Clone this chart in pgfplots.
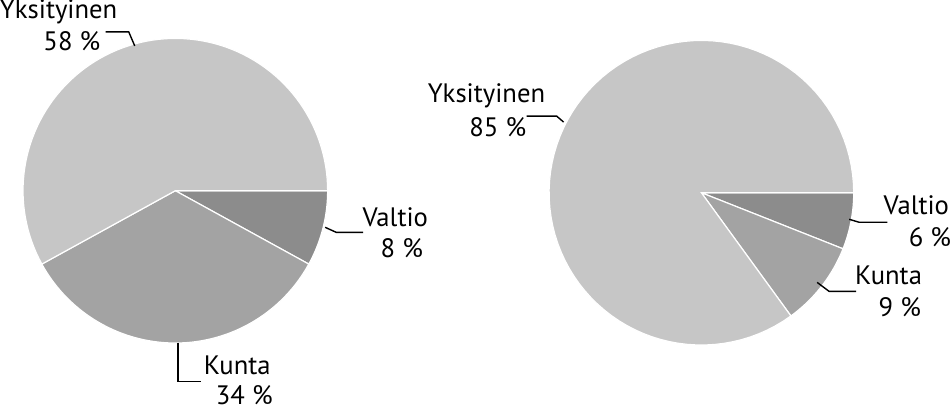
\documentclass[border=0pt]{standalone}
\usepackage{pgfplots}
\usepackage{pgfplotstable}
\pgfplotsset{compat=1.18}
\usepackage{fontspec}
\setmainfont{PT Sans}
\definecolor{cY}{HTML}{C6C6C6}
\definecolor{cK}{HTML}{A3A3A3}
\definecolor{cV}{HTML}{8C8C8C}
\tikzset{lbl/.style={anchor=base east, inner sep=0pt, font=\fontsize{13.3}{15}\selectfont}}
\pgfplotstableread{
sector left right
Valtio 8 6
Kunta 34 9
Yksityinen 58 85
}\piedata
\pgfplotstablegetelem{0}{left}\of\piedata \let\lV\pgfplotsretval
\pgfplotstablegetelem{1}{left}\of\piedata \let\lK\pgfplotsretval
\pgfplotstablegetelem{0}{right}\of\piedata \let\rV\pgfplotsretval
\pgfplotstablegetelem{1}{right}\of\piedata \let\rK\pgfplotsretval
\pgfmathsetmacro\la{3.6*\lV}
\pgfmathsetmacro\lb{3.6*(\lV+\lK)}
\pgfmathsetmacro\ra{3.6*\rV}
\pgfmathsetmacro\rb{3.6*(\rV+\rK)}
\begin{document}
\begin{tikzpicture}
\begin{axis}[
  hide axis, scale only axis, width=475.5pt, height=208pt,
  xmin=0, xmax=951, ymin=0, ymax=416, y dir=reverse, clip=false,
  every axis plot/.append style={draw=white, line width=0.6pt, samples=90, variable=\t},
]
% left pie, centre (172.5,196.5), r=152
\addplot[fill=cV, domain=0:\la] ({172.5+152*cos(t)},{196.5+152*sin(t)}) -- (axis cs:172.5,196.5) -- cycle;
\addplot[fill=cK, domain=\la:\lb] ({172.5+152*cos(t)},{196.5+152*sin(t)}) -- (axis cs:172.5,196.5) -- cycle;
\addplot[fill=cY, domain=\lb:360] ({172.5+152*cos(t)},{196.5+152*sin(t)}) -- (axis cs:172.5,196.5) -- cycle;
% right pie, centre (697.5,198.5), r=152
\addplot[fill=cV, domain=0:\ra] ({697.5+152*cos(t)},{198.5+152*sin(t)}) -- (axis cs:697.5,198.5) -- cycle;
\addplot[fill=cK, domain=\ra:\rb] ({697.5+152*cos(t)},{198.5+152*sin(t)}) -- (axis cs:697.5,198.5) -- cycle;
\addplot[fill=cY, domain=\rb:360] ({697.5+152*cos(t)},{198.5+152*sin(t)}) -- (axis cs:697.5,198.5) -- cycle;
% leader lines
\draw[line width=0.7pt] (axis cs:103,38) -- (axis cs:126,38) -- (axis cs:132,52);
\draw[line width=0.7pt] (axis cs:322,233) -- (axis cs:333,238) -- (axis cs:360,238);
\draw[line width=0.7pt] (axis cs:175,348) -- (axis cs:175,387) -- (axis cs:198,387);
\draw[line width=0.7pt] (axis cs:523,122) -- (axis cs:553,122) -- (axis cs:560,128);
\draw[line width=0.7pt] (axis cs:845,225) -- (axis cs:855,228) -- (axis cs:883,228);
\draw[line width=0.7pt] (axis cs:813,288) -- (axis cs:825,297) -- (axis cs:852,297);
% labels
\node[lbl] at (axis cs:115,25) {Yksityinen};
\node[lbl] at (axis cs:98,57) {58 \%};
\node[lbl] at (axis cs:425,232) {Valtio};
\node[lbl] at (axis cs:420,263) {8 \%};
\node[lbl] at (axis cs:268,380) {Kunta};
\node[lbl] at (axis cs:270,410) {34 \%};
\node[lbl] at (axis cs:542,108) {Yksityinen};
\node[lbl] at (axis cs:523,142) {85 \%};
\node[lbl] at (axis cs:945,220) {Valtio};
\node[lbl] at (axis cs:947,252) {6 \%};
\node[lbl] at (axis cs:918,290) {Kunta};
\node[lbl] at (axis cs:917,322) {9 \%};
\end{axis}
\end{tikzpicture}
\end{document}
